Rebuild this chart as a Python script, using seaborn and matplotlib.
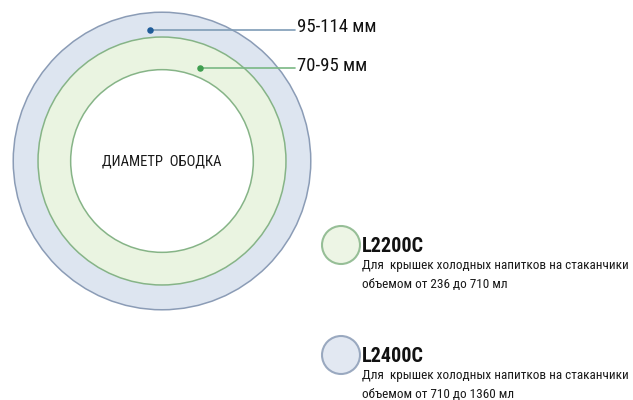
import matplotlib
matplotlib.use('Agg')
import matplotlib.pyplot as plt
import seaborn as sns
from matplotlib.patches import Circle

# ring diameters (mm) and labels
ring_names = ['L2400C', 'L2200C']
ring_ranges = [(95, 114), (70, 95)]
ring_labels = ['95-114 мм', '70-95 мм']
ring_desc = ['Для  крышек холодных напитков на стаканчики\nобъемом от 710 до 1360 мл',
             'Для  крышек холодных напитков на стаканчики\nобъемом от 236 до 710 мл']
center_label = 'ДИАМЕТР  ОБОДКА'

fills = ['#dde5f0', '#eaf4e1']
edges = ['#8b9cb6', '#86b487']
dot_colors = ['#1f5c99', '#3f9e4f']
line_colors = ['#7f9cb6', '#7ab884']

sns.set_theme(style='white')
plt.rcParams['font.family'] = ['Roboto Condensed', 'DejaVu Sans']

fig = plt.figure(figsize=(6.33, 4.0), dpi=100)
ax = fig.add_axes([0, 0, 1, 1])
ax.set_xlim(0, 633)
ax.set_ylim(400, 0)
ax.set_aspect('equal')
ax.axis('off')

# px per mm of diameter -> radius
scale = 1.305
cx, cy = 162, 161

# outer ring, middle ring, inner hole
for (lo, hi), fc, ec in zip(ring_ranges, fills, edges):
    ax.add_patch(Circle((cx, cy), hi * scale, facecolor=fc, edgecolor=ec, lw=1.1, zorder=1))
ax.add_patch(Circle((cx, cy), ring_ranges[1][0] * scale, facecolor='white',
                    edgecolor=edges[1], lw=1.1, zorder=2))

ax.text(cx, cy, center_label, ha='center', va='center', fontsize=10.5, color='#1a1a1a', zorder=3)

# leader lines with dots
dot_pos = [(150, 29.5), (200, 68)]
line_end = 295
for (x, y), lab, dc, lc in zip(dot_pos, ring_labels, dot_colors, line_colors):
    ax.plot([x, line_end], [y, y], color=lc, lw=1.2, zorder=4)
    ax.scatter([x], [y], s=22, color=dc, zorder=5, linewidths=0)
    ax.text(line_end + 2, y + 3, lab, ha='left', va='baseline', fontsize=13.5, color='#111111')

# legend entries
leg_y = [355, 245]
for name, desc, fc, ec, y in zip(ring_names, ring_desc, fills, edges, leg_y):
    ax.add_patch(Circle((341, y), 19, facecolor=fc, edgecolor=ec, lw=1.5, alpha=0.85))
    ax.text(362, y + 7, name, ha='left', va='baseline', fontsize=14.5, fontweight='bold', color='#111111')
    ax.text(362, y + 14, desc, ha='left', va='top', fontsize=9.5, color='#1a1a1a', linespacing=1.6)

fig.savefig('out.png', dpi=100)
